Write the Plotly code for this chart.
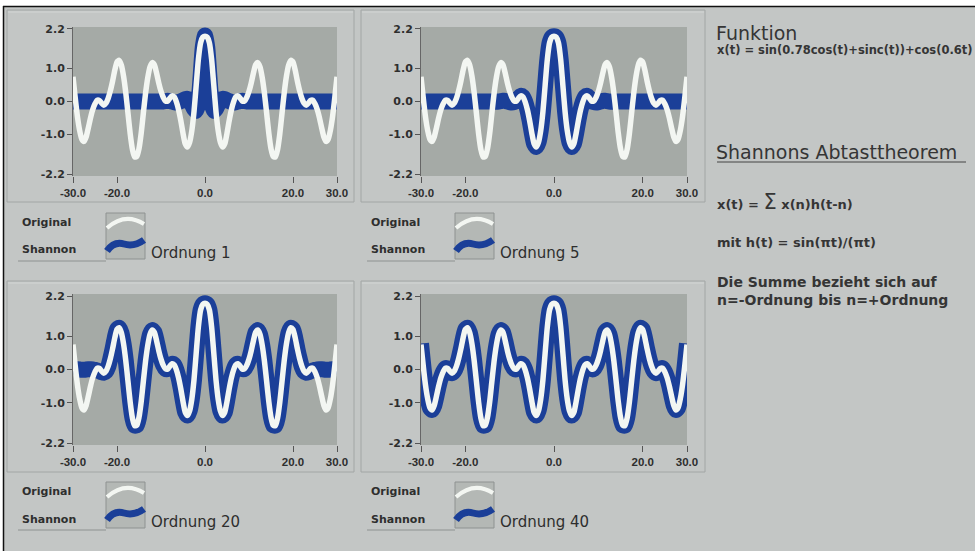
import plotly.graph_objects as go

W, H = 975, 551

# ---------------- data ----------------
t = [round(-30 + 0.5 * i, 1) for i in range(121)]

original = [
    0.75, 0.12, -0.45, -0.87, -1.14, -1.21, -1.07, -0.79, -0.49, -0.24,
    -0.07, 0.04, 0.03, -0.05, -0.11, -0.05, 0.10, 0.33, 0.62, 0.95,
    1.20, 1.25, 1.10, 0.76, 0.26, -0.36, -0.98, -1.45, -1.68, -1.67,
    -1.43, -0.96, -0.34, 0.26, 0.73, 1.05, 1.18, 1.11, 0.86, 0.56,
    0.31, 0.13, 0.02, 0.01, 0.10, 0.17, 0.14, -0.01, -0.25, -0.58,
    -0.96, -1.28, -1.38, -1.24, -0.89, -0.31, 0.49, 1.28, 1.78, 1.95,
    1.98,
    1.95, 1.78, 1.28, 0.49, -0.31, -0.89, -1.24, -1.38, -1.28, -0.96,
    -0.58, -0.25, -0.01, 0.14, 0.17, 0.10, 0.01, 0.02, 0.13, 0.31,
    0.56, 0.86, 1.11, 1.18, 1.05, 0.73, 0.26, -0.34, -0.96, -1.43,
    -1.67, -1.68, -1.45, -0.98, -0.36, 0.26, 0.76, 1.10, 1.25, 1.20,
    0.95, 0.62, 0.33, 0.10, -0.05, -0.11, -0.05, 0.03, 0.04, -0.07,
    -0.24, -0.49, -0.79, -1.07, -1.21, -1.14, -0.87, -0.45, 0.12, 0.75,
]

shannon_1 = [
    0.00, 0.00, 0.00, 0.00, 0.00, 0.00, 0.00, 0.00, 0.00, 0.00,
    0.00, 0.00, 0.00, 0.00, 0.00, 0.00, 0.00, 0.00, 0.00, 0.00,
    0.00, 0.00, 0.00, 0.00, 0.00, 0.00, 0.00, 0.00, 0.00, 0.00,
    0.00, 0.00, 0.00, 0.00, 0.00, 0.00, 0.00, 0.00, 0.00, 0.00,
    0.00, 0.00, 0.01, 0.02, 0.01, 0.00, -0.02, -0.03, -0.02, 0.01,
    0.04, 0.07, 0.08, 0.05, -0.08, -0.22, -0.28, -0.05, 0.75, 1.65,
    2.00,
    1.65, 0.75, -0.05, -0.28, -0.22, -0.08, 0.05, 0.08, 0.07, 0.04,
    0.01, -0.02, -0.03, -0.02, 0.00, 0.01, 0.02, 0.01, 0.00, 0.00,
    0.00, 0.00, 0.00, 0.00, 0.00, 0.00, 0.00, 0.00, 0.00, 0.00,
    0.00, 0.00, 0.00, 0.00, 0.00, 0.00, 0.00, 0.00, 0.00, 0.00,
    0.00, 0.00, 0.00, 0.00, 0.00, 0.00, 0.00, 0.00, 0.00, 0.00,
    0.00, 0.00, 0.00, 0.00, 0.00, 0.00, 0.00, 0.00, 0.00, 0.00,
]

shannon_5 = [
    0.00, 0.00, 0.00, 0.00, 0.00, 0.00, 0.00, 0.00, 0.00, 0.00,
    0.00, 0.00, 0.00, 0.00, 0.00, 0.00, 0.00, 0.00, 0.00, 0.00,
    0.00, 0.00, 0.00, 0.00, 0.00, 0.00, 0.00, 0.00, 0.00, 0.00,
    0.00, 0.00, 0.00, -0.01, -0.01, 0.00, 0.01, 0.02, 0.02, 0.00,
    -0.02, -0.03, -0.02, 0.01, 0.10, 0.17, 0.14, -0.01, -0.25, -0.58,
    -0.96, -1.28, -1.38, -1.24, -0.89, -0.31, 0.49, 1.28, 1.78, 1.95,
    1.98,
    1.95, 1.78, 1.28, 0.49, -0.31, -0.89, -1.24, -1.38, -1.28, -0.96,
    -0.58, -0.25, -0.01, 0.14, 0.17, 0.10, 0.01, -0.02, -0.03, -0.02,
    0.00, 0.02, 0.02, 0.01, 0.00, -0.01, -0.01, 0.00, 0.00, 0.00,
    0.00, 0.00, 0.00, 0.00, 0.00, 0.00, 0.00, 0.00, 0.00, 0.00,
    0.00, 0.00, 0.00, 0.00, 0.00, 0.00, 0.00, 0.00, 0.00, 0.00,
    0.00, 0.00, 0.00, 0.00, 0.00, 0.00, 0.00, 0.00, 0.00, 0.00,
]

shannon_20 = [
    0.00, 0.01, 0.01, 0.00, -0.01, -0.01, 0.00, 0.01, 0.01, 0.00,
    -0.01, -0.03, -0.05, -0.08, -0.10, -0.06, 0.08, 0.33, 0.62, 0.95,
    1.20, 1.25, 1.10, 0.76, 0.26, -0.36, -0.98, -1.45, -1.68, -1.67,
    -1.43, -0.96, -0.34, 0.26, 0.73, 1.05, 1.18, 1.11, 0.86, 0.56,
    0.31, 0.13, 0.02, 0.01, 0.10, 0.17, 0.14, -0.01, -0.25, -0.58,
    -0.96, -1.28, -1.38, -1.24, -0.89, -0.31, 0.49, 1.28, 1.78, 1.95,
    1.98,
    1.95, 1.78, 1.28, 0.49, -0.31, -0.89, -1.24, -1.38, -1.28, -0.96,
    -0.58, -0.25, -0.01, 0.14, 0.17, 0.10, 0.01, 0.02, 0.13, 0.31,
    0.56, 0.86, 1.11, 1.18, 1.05, 0.73, 0.26, -0.34, -0.96, -1.43,
    -1.67, -1.68, -1.45, -0.98, -0.36, 0.26, 0.76, 1.10, 1.25, 1.20,
    0.95, 0.62, 0.33, 0.08, -0.06, -0.10, -0.08, -0.05, -0.03, -0.01,
    0.00, 0.01, 0.01, 0.00, -0.01, -0.01, 0.00, 0.01, 0.01, 0.00,
]

shannon_40 = [
    0.78, 0.13, -0.45, -0.87, -1.14, -1.21, -1.07, -0.79, -0.49, -0.24,
    -0.07, 0.04, 0.03, -0.05, -0.11, -0.05, 0.10, 0.33, 0.62, 0.95,
    1.20, 1.25, 1.10, 0.76, 0.26, -0.36, -0.98, -1.45, -1.68, -1.67,
    -1.43, -0.96, -0.34, 0.26, 0.73, 1.05, 1.18, 1.11, 0.86, 0.56,
    0.31, 0.13, 0.02, 0.01, 0.10, 0.17, 0.14, -0.01, -0.25, -0.58,
    -0.96, -1.28, -1.38, -1.24, -0.89, -0.31, 0.49, 1.28, 1.78, 1.95,
    1.98,
    1.95, 1.78, 1.28, 0.49, -0.31, -0.89, -1.24, -1.38, -1.28, -0.96,
    -0.58, -0.25, -0.01, 0.14, 0.17, 0.10, 0.01, 0.02, 0.13, 0.31,
    0.56, 0.86, 1.11, 1.18, 1.05, 0.73, 0.26, -0.34, -0.96, -1.43,
    -1.67, -1.68, -1.45, -0.98, -0.36, 0.26, 0.76, 1.10, 1.25, 1.20,
    0.95, 0.62, 0.33, 0.10, -0.05, -0.11, -0.05, 0.03, 0.04, -0.07,
    -0.24, -0.49, -0.79, -1.07, -1.21, -1.14, -0.87, -0.45, 0.13, 0.78,
]

order_labels = ["Ordnung 1", "Ordnung 5", "Ordnung 20", "Ordnung 40"]
series_names = ["Original", "Shannon"]
x_tickvals = [-30, -20, 0, 20, 30]
x_ticktext = ["-30.0", "-20.0", "0.0", "20.0", "30.0"]
y_tickvals = [-2.2, -1.0, 0.0, 1.0, 2.2]
y_ticktext = ["-2.2", "-1.0", "0.0", "1.0", "2.2"]

# ---------------- styling ----------------
BG = "#c3c6c5"
PLOT_BG = "#a5aaa6"
BLUE = "#1b3f98"
WHITE = "#f3f6f2"
TXT = "#2e2e2e"


def px(x):
    return x / W


def py(y):
    return 1 - y / H


shannon_all = [shannon_1, shannon_5, shannon_20, shannon_40]
geo = [
    (73, 337, 27, 176),
    (421, 687, 27, 176),
    (73, 337, 294, 445),
    (421, 687, 294, 445),
]

fig = go.Figure()
for i in range(4):
    xa = "x" if i == 0 else f"x{i + 1}"
    ya = "y" if i == 0 else f"y{i + 1}"
    fig.add_trace(go.Scatter(
        x=t, y=shannon_all[i], mode="lines", name=series_names[1],
        line=dict(color=BLUE, width=16, shape="spline", smoothing=0.6),
        xaxis=xa, yaxis=ya, showlegend=False, hoverinfo="skip"))
    fig.add_trace(go.Scatter(
        x=t, y=original, mode="lines", name=series_names[0],
        line=dict(color=WHITE, width=5.5, shape="spline", smoothing=0.6),
        xaxis=xa, yaxis=ya, showlegend=False, hoverinfo="skip"))

layout = dict(
    width=W, height=H, margin=dict(l=0, r=0, t=0, b=0, pad=0, autoexpand=False),
    paper_bgcolor=BG, plot_bgcolor=PLOT_BG, showlegend=False,
)
for i, (l, r, tp, bt) in enumerate(geo):
    sx = "" if i == 0 else str(i + 1)
    layout["xaxis" + sx] = dict(
        domain=[px(l), px(r)], range=[-30, 30], anchor="y" + sx, automargin=False,
        tickvals=x_tickvals, ticktext=["<b>" + s + "</b>" for s in x_ticktext],
        ticks="outside", ticklen=6, tickcolor="#555", tickwidth=1,
        showgrid=False, zeroline=False, showline=False,
        tickfont=dict(family="Liberation Sans Narrow, Liberation Sans, Arial", size=11.5, color=TXT),
    )
    layout["yaxis" + sx] = dict(
        domain=[py(bt), py(tp)], range=[-2.26, 2.26], anchor="x" + sx, automargin=False,
        tickvals=y_tickvals, ticktext=["<b>" + s + "</b>" for s in y_ticktext],
        ticks="outside", ticklen=5, tickcolor="#555", tickwidth=1,
        showgrid=False, zeroline=False, showline=True, linecolor="#666", linewidth=1,
        tickfont=dict(family="DejaVu Sans, Liberation Sans", size=11, color=TXT),
    )
fig.update_layout(**layout)

shapes = []
shapes.append(dict(type="rect", xref="paper", yref="paper", x0=0, x1=1, y0=py(6), y1=1,
                   fillcolor="white", line=dict(width=0), layer="below"))
shapes.append(dict(type="rect", xref="paper", yref="paper", x0=0, x1=px(3), y0=0, y1=1,
                   fillcolor="white", line=dict(width=0), layer="below"))
shapes.append(dict(type="line", xref="paper", yref="paper", x0=px(3), x1=1, y0=py(6.5), y1=py(6.5),
                   line=dict(color="#111", width=1.5), layer="below"))
shapes.append(dict(type="line", xref="paper", yref="paper", x0=px(3.5), x1=px(3.5), y0=0, y1=py(6),
                   line=dict(color="#111", width=1.5), layer="below"))

frames = [(7, 354, 10, 202), (361, 705, 10, 202), (7, 354, 281, 472), (361, 705, 281, 472)]
for (x0, x1, y0, y1) in frames:
    shapes.append(dict(type="rect", xref="paper", yref="paper", x0=px(x0), x1=px(x1),
                       y0=py(y1), y1=py(y0), fillcolor="rgba(0,0,0,0)",
                       line=dict(color="#a2a6a5", width=1), layer="below"))
    shapes.append(dict(type="line", xref="paper", yref="paper", x0=px(x0 + 1), x1=px(x1 - 1),
                       y0=py(y0 + 2), y1=py(y0 + 2), line=dict(color="#d3d6d5", width=1), layer="below"))

legend_offsets = [(0, 0), (349, 0), (0, 269), (349, 269)]
annotations = []
for i, (dx, dy) in enumerate(legend_offsets):
    shapes.append(dict(type="line", xref="paper", yref="paper", x0=px(18 + dx), x1=px(106 + dx),
                       y0=py(261 + dy), y1=py(261 + dy), line=dict(color="#8e9291", width=1), layer="below"))
    shapes.append(dict(type="rect", xref="paper", yref="paper", x0=px(106 + dx), x1=px(145 + dx),
                       y0=py(259 + dy), y1=py(213 + dy), fillcolor="#b4b8b5",
                       line=dict(color="#8e9291", width=1), layer="below"))
    wpath = "M {:.5f},{:.5f} Q {:.5f},{:.5f} {:.5f},{:.5f}".format(
        px(107 + dx), py(228 + dy), px(125 + dx), py(212 + dy), px(144 + dx), py(224 + dy))
    shapes.append(dict(type="path", xref="paper", yref="paper", path=wpath,
                       line=dict(color=WHITE, width=4), layer="below"))
    bpath = "M {:.5f},{:.5f} Q {:.5f},{:.5f} {:.5f},{:.5f} Q {:.5f},{:.5f} {:.5f},{:.5f}".format(
        px(107 + dx), py(251 + dy), px(114 + dx), py(241 + dy), px(124 + dx), py(244 + dy),
        px(134 + dx), py(247 + dy), px(144 + dx), py(240 + dy))
    shapes.append(dict(type="path", xref="paper", yref="paper", path=bpath,
                       line=dict(color=BLUE, width=7), layer="below"))
    annotations.append(dict(x=px(20 + dx), y=py(222 + dy), xref="paper", yref="paper",
                            text="<b>" + series_names[0] + "</b>", showarrow=False,
                            xanchor="left", yanchor="middle",
                            font=dict(family="DejaVu Sans", size=11, color=TXT)))
    annotations.append(dict(x=px(20 + dx), y=py(250 + dy), xref="paper", yref="paper",
                            text="<b>" + series_names[1] + "</b>", showarrow=False,
                            xanchor="left", yanchor="middle",
                            font=dict(family="DejaVu Sans", size=11, color=TXT)))
    annotations.append(dict(x=px(149 + dx), y=py(253 + dy), xref="paper", yref="paper",
                            text=order_labels[i], showarrow=False,
                            xanchor="left", yanchor="middle",
                            font=dict(family="DejaVu Sans", size=15, color=TXT)))


def note(x, y, text, size, bold=False):
    annotations.append(dict(x=px(x), y=py(y), xref="paper", yref="paper",
                            text=("<b>" + text + "</b>") if bold else text, showarrow=False,
                            xanchor="left", yanchor="middle",
                            font=dict(family="DejaVu Sans", size=size, color="#353535")))


note(714, 33, "Funktion", 19)
note(715, 50, "x(t) = sin(0.78cos(t)+sinc(t))+cos(0.6t)", 11.5, bold=True)
note(714, 152, "Shannons Abtasttheorem", 19)
shapes.append(dict(type="line", xref="paper", yref="paper", x0=px(717), x1=px(966),
                   y0=py(162), y1=py(162), line=dict(color="#444", width=1), layer="below"))
annotations.append(dict(x=px(715), y=py(202), xref="paper", yref="paper",
                        text="<b>x(t) = </b><span style='font-size:21px'>Σ</span><b> x(n)h(t-n)</b>",
                        showarrow=False, xanchor="left", yanchor="middle",
                        font=dict(family="DejaVu Sans", size=13, color="#353535")))
note(715, 242, "mit h(t) = sin(πt)/(πt)", 13, bold=True)
note(715, 282, "Die Summe bezieht sich auf", 14, bold=True)
note(715, 300, "n=-Ordnung bis n=+Ordnung", 14, bold=True)

fig.update_layout(shapes=shapes, annotations=annotations)
fig.write_html("out.html", config={"displayModeBar": False},
               post_script="document.body.style.margin='0';document.body.style.overflow='hidden';")
